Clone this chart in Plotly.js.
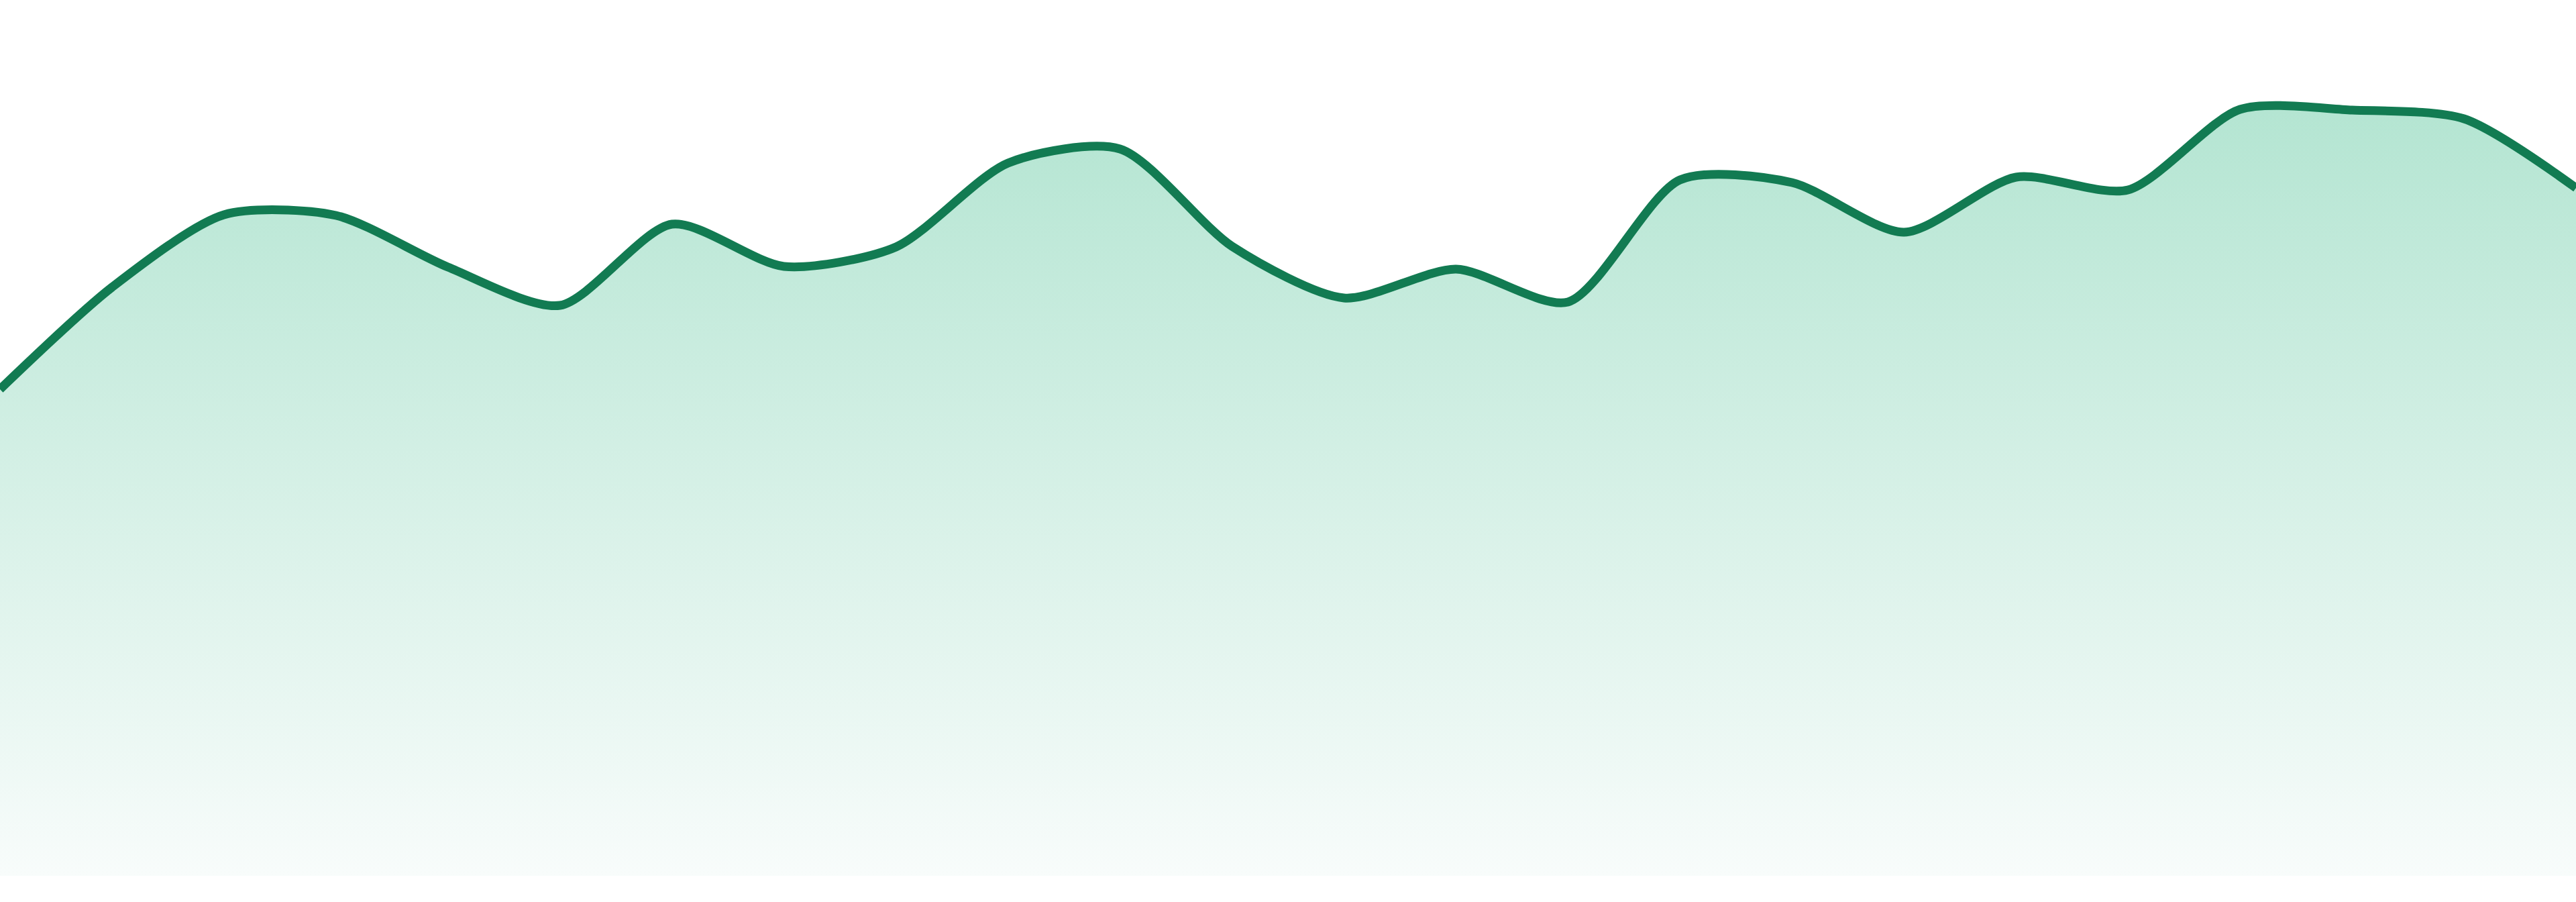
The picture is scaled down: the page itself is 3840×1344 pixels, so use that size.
<!DOCTYPE html>
<html>
<head>
<meta charset="utf-8">
<script src="https://cdn.plot.ly/plotly-3.0.1.min.js"></script>
<style>
  html, body { margin: 0; padding: 0; background: #ffffff; }
  #chart { width: 3840px; height: 1344px; }
</style>
</head>
<body>
<div id="chart"></div>
<script>
// one point per step, 24 steps across the width
var steps = [0, 1, 2, 3, 4, 5, 6, 7, 8, 9, 10, 11,
             12, 13, 14, 15, 16, 17, 18, 19, 20, 21, 22, 23];
var values = [72.5, 87.7, 98.5, 98.4, 90.7, 85.0, 97.1, 90.8,
              93.7, 106.2, 108.3, 93.8, 86.1, 90.4, 85.5, 103.7,
              103.3, 95.9, 104.1, 102.2, 114.2, 114.1, 112.8, 102.5];

var lineColor = '#127b52';

var trace = {
    x: steps,
    y: values,
    type: 'scatter',
    mode: 'lines',
    line: {color: lineColor, width: 13, shape: 'spline', smoothing: 0.75},
    fill: 'tozeroy',
    fillgradient: {
        type: 'vertical',
        start: 0,
        stop: 114.2,
        colorscale: [[0, 'rgb(248,252,251)'], [1, 'rgb(180,229,210)']]
    },
    hoverinfo: 'none'
};

var layout = {
    width: 3840,
    height: 1344,
    margin: {l: 0, r: 0, t: 0, b: 0},
    paper_bgcolor: '#ffffff',
    plot_bgcolor: '#ffffff',
    showlegend: false,
    xaxis: {range: [0, 23], visible: false, fixedrange: true},
    yaxis: {range: [-3.9, 130.5], visible: false, fixedrange: true}
};

Plotly.newPlot('chart', [trace], layout, {displayModeBar: false, staticPlot: true});
</script>
</body>
</html>
